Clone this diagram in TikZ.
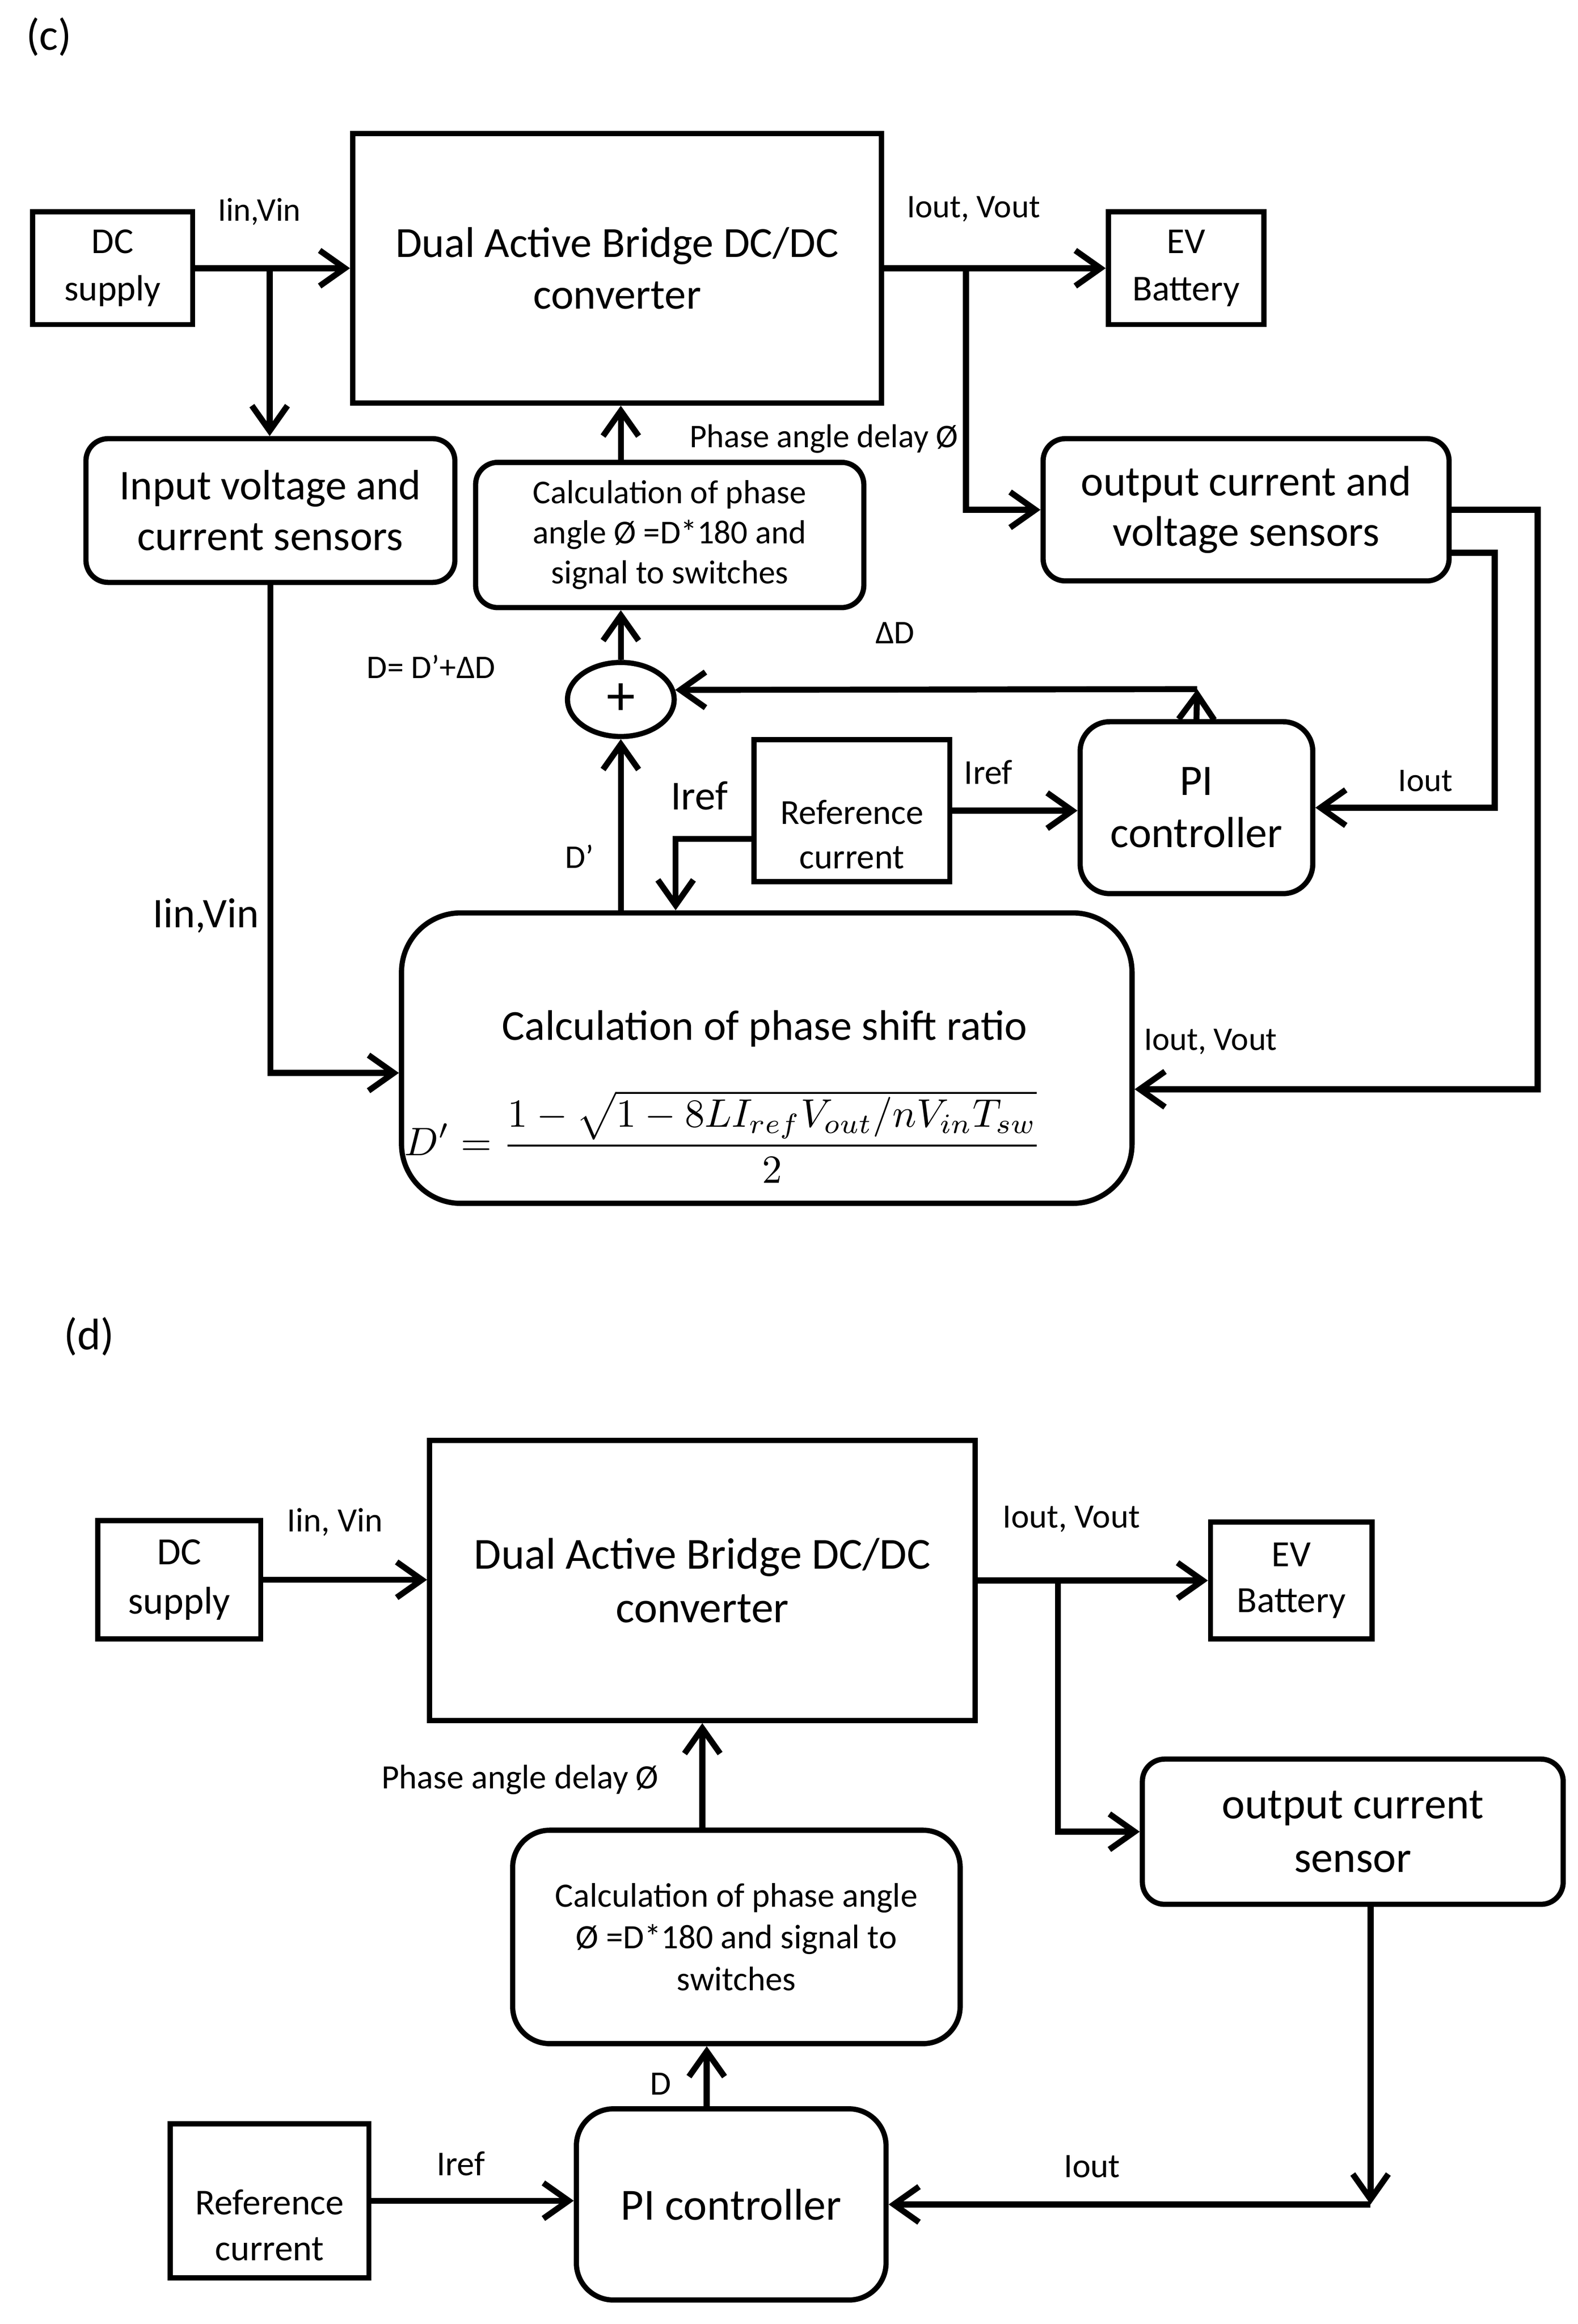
\documentclass[tikz,border=0pt]{standalone}
\usepackage{fontspec}
\setmainfont{Carlito}
\usepackage{graphicx}
\usetikzlibrary{arrows.meta,shapes.geometric}
\newcommand{\fsz}[2]{\fontsize{#1}{#2}\selectfont}
\begin{document}
\begin{tikzpicture}[x=0.2mm,y=-0.2mm]
\tikzset{
  box/.style={draw, line width=2pt, inner sep=0pt, align=center},
  rbox/.style={box, rounded corners=#1},
  rbox/.default=3mm,
  arr/.style={line width=2.3pt, -{Straight Barb[length=3.4mm,width=4.8mm]}},
  lbl/.style={inner sep=0pt, font=\fsz{12.7}{15}},
  txt/.style={inner sep=0pt, align=center},
}
\useasboundingbox (0,0) rectangle (1064.8,1568.2);

% ================= panel (c) =================
\node[lbl, font=\fsz{17}{20}] (tc) at (33,25) {(c)};
\node[box, minimum width=21.6mm, minimum height=15.2mm, font=\fsz{14}{18.2}] (dc1) at (76,181) {DC\\supply};
\node[box, minimum width=71.4mm, minimum height=36.4mm, font=\fsz{16.5}{20}] (dab1) at (416.5,181) {Dual Active Bridge DC/DC\\converter};
\node[box, minimum width=21mm, minimum height=15.2mm, font=\fsz{14}{18.2}] (ev1) at (800.5,181) {EV\\Battery};
\node[rbox, minimum width=49.8mm, minimum height=19.4mm, font=\fsz{16.3}{19.4}] (ins1) at (182.5,344.5) {Input voltage and\\current sensors};
\node[rbox, minimum width=54.8mm, minimum height=19.2mm, font=\fsz{16.4}{19.4}] (outs1) at (841,344) {output current and\\voltage sensors};
\node[rbox, minimum width=52.4mm, minimum height=19.6mm, font=\fsz{12.8}{15.4}] (calc1) at (452,361) {Calculation of phase\\angle Ø =D*180 and\\signal to switches};
\node[draw, ellipse, line width=2pt, minimum width=14.4mm, minimum height=10mm, inner sep=0pt, font=\fsz{22}{24}] (sum) at (419,472) {+};
\node[box, minimum width=26.4mm, minimum height=19.2mm] (ref1) at (575,547) {};
\node[txt, font=\fsz{13.5}{17}] (ref1t) at (575,563) {Reference\\current};
\node[rbox=4mm, minimum width=31.4mm, minimum height=23.2mm, font=\fsz{16.7}{20}] (pi1) at (807.5,545) {PI\\controller};
\node[rbox=8mm, minimum width=98.6mm, minimum height=39.2mm] (psr) at (517.5,714) {};
\node[txt, font=\fsz{16.4}{20}] (psrt) at (516,694) {Calculation of phase shift ratio};
\node[inner sep=0pt] (psrf) at (488,767) {\resizebox{86mm}{!}{$\displaystyle D' = \frac{1-\sqrt{1-8LI_{ref}V_{out}/nV_{in}T_{sw}}}{2}$}};

\coordinate (b1) at (182,181);
\coordinate (b2) at (652,181);
\coordinate (k) at (456,0);
\coordinate (c1) at (808,465);

\draw[arr] (dc1.east) -- (dc1.east -| dab1.west);
\draw[arr] (b1) -- (b1 |- ins1.north);
\draw[arr] (dab1.east) -- (dab1.east -| ev1.west);
\draw[arr] (b2) |- (outs1.west);
\draw[arr] (sum |- calc1.north) -- (sum |- dab1.south);
\draw[arr] (sum.north) -- (sum |- calc1.south);
\draw[arr] (sum |- psr.north) -- (sum.south);
\draw[arr] (pi1.north) -- (c1);
\draw[arr] (c1) -- (sum.10);
\draw[arr] (ref1.east) -- (ref1.east -| pi1.west);
\draw[arr] ([yshift=-3.8mm]ref1.west) -| (k |- psr.north);
\draw[arr] (ins1.south) |- ([yshift=-2mm]psr.west);
\draw[arr] (outs1.east) -- ++(58,0) |- ([yshift=-4.2mm]psr.east);
\draw[arr] ([yshift=-5.8mm]outs1.east) -- ++(29,0) |- (pi1.east);

\node[lbl] (l1) at (175,143) {Iin,Vin};
\node[lbl] (l2) at (657,141) {Iout, Vout};
\node[lbl] (l3) at (556,296) {Phase angle delay Ø};
\node[lbl] (l4) at (604,427) {ΔD};
\node[lbl] (l5) at (291,450) {D= D’+ΔD};
\node[lbl, font=\fsz{15.8}{18}] (l6) at (472,537) {Iref};
\node[lbl, font=\fsz{13.4}{16}] (l7) at (667,521) {Iref};
\node[lbl] (l8) at (391,578) {D’};
\node[lbl, font=\fsz{16.2}{19}] (l9) at (139,618) {Iin,Vin};
\node[lbl] (l10) at (817,703) {Iout, Vout};
\node[lbl] (l11) at (962,527) {Iout};

% ================= panel (d) =================
\node[lbl, font=\fsz{17}{20}] (td) at (60,902) {(d)};
\node[box, minimum width=22mm, minimum height=16mm, font=\fsz{14.8}{18.8}] (dc2) at (121,1066) {DC\\supply};
\node[box, minimum width=73.6mm, minimum height=37.8mm, font=\fsz{17}{20.5}] (dab2) at (474,1066.5) {Dual Active Bridge DC/DC\\converter};
\node[box, minimum width=21.8mm, minimum height=15.8mm, font=\fsz{14.2}{17.6}] (ev2) at (871.5,1066.5) {EV\\Battery};
\node[rbox, minimum width=56.8mm, minimum height=19.6mm, font=\fsz{16.8}{20.5}] (outs2) at (913,1236) {output current\\sensor};
\node[rbox=5mm, minimum width=60.4mm, minimum height=28.8mm, font=\fsz{13.1}{16}] (calc2) at (497,1307) {Calculation of phase angle\\Ø =D*180 and signal to\\switches};
\node[rbox=5mm, minimum width=41.8mm, minimum height=25.8mm, font=\fsz{17.1}{20}] (pi2) at (493.5,1487.5) {PI controller};
\node[box, minimum width=26.8mm, minimum height=20.8mm] (ref2) at (182,1485) {};
\node[txt, font=\fsz{14}{17.6}] (ref2t) at (182,1501.5) {Reference\\current};

\coordinate (b3) at (714,1066.5);
\coordinate (c2) at (925,1487.5);
\coordinate (k3) at (477,0);

\draw[arr] (dc2.east) -- (dc2.east -| dab2.west);
\draw[arr] (dab2.east) -- (dab2.east -| ev2.west);
\draw[arr] (b3) |- (outs2.west);
\draw[arr] (outs2.south -| c2) -- (c2);
\draw[arr] (c2) -- (pi2.east);
\draw[arr] (ref2.east) -- (ref2.east -| pi2.west);
\draw[arr] (pi2.north -| k3) -- (calc2.south -| k3);
\draw[arr] (calc2.north -| dab2.south) -- (dab2.south);

\node[lbl, font=\fsz{13.1}{16}] (m1) at (226,1027) {Iin, Vin};
\node[lbl, font=\fsz{13.1}{16}] (m2) at (723,1025) {Iout, Vout};
\node[lbl, font=\fsz{13.1}{16}] (m3) at (351,1201) {Phase angle delay Ø};
\node[lbl, font=\fsz{13.1}{16}] (m4) at (446,1406) {D};
\node[lbl, font=\fsz{13.4}{16}] (m5) at (311,1460) {Iref};
\node[lbl, font=\fsz{13.2}{16}] (m6) at (737,1462) {Iout};
\end{tikzpicture}
\end{document}
